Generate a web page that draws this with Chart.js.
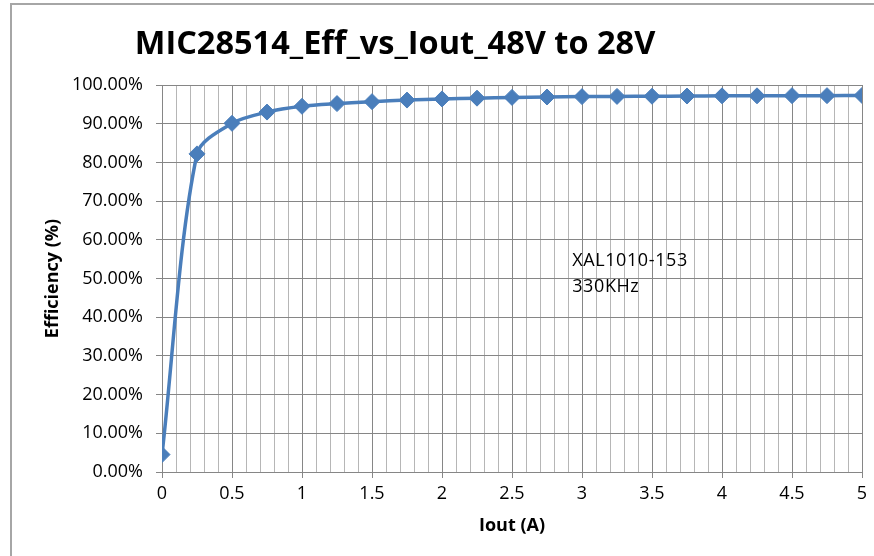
<!DOCTYPE html>
<html>
<head>
<meta charset="utf-8">
<script src="https://cdn.jsdelivr.net/npm/chart.js@4.4.1/dist/chart.umd.min.js"></script>
<style>
    html, body {
        margin: 0;
        padding: 0;
        background: #ffffff;
    }

    .wrap {
        position: relative;
        width: 874px;
        height: 556px;
    }

    .frame {
        position: absolute;
        left: 10px;
        top: 3px;
        right: 0;
        bottom: 0;
        border-top: 2px solid #a6a6a6;
        border-left: 2px solid #a6a6a6;
        pointer-events: none;
    }
</style>
</head>
<body>
<div class="wrap">
    <canvas id="effChart" width="874" height="556"></canvas>
    <div class="frame"></div>
</div>
<script>
const chartTitle = "MIC28514_Eff_vs_Iout_48V to 28V";
const noteLines = ["XAL1010-153", "330KHz"];

// output current (A) and measured efficiency (%)
const currents = [0, 0.25, 0.5, 0.75, 1, 1.25, 1.5, 1.75, 2, 2.25, 2.5,
    2.75, 3, 3.25, 3.5, 3.75, 4, 4.25, 4.5, 4.75, 5];
const efficiency = [4.5, 82.2, 90.1, 93.0, 94.5, 95.2, 95.7, 96.1, 96.4, 96.6, 96.8,
    96.9, 97.0, 97.05, 97.1, 97.15, 97.2, 97.2, 97.25, 97.25, 97.3];

const yTicks = [0, 10, 20, 30, 40, 50, 60, 70, 80, 90, 100];
const xRange = [0, 5];

const lineBlue = "#4a7ebb";
const majorGrid = "#868686";
const minorGrid = "#b6b6b6";

function isMajorX(value) {
    return Math.abs(value * 2 - Math.round(value * 2)) < 1e-6;
}

const overlayText = {
    id: "overlayText",
    afterDraw(chart) {
        const { ctx, scales } = chart;
        ctx.save();
        ctx.fillStyle = "#000000";
        ctx.font = "bold 32.5px 'Open Sans', sans-serif";
        ctx.textAlign = "center";
        ctx.textBaseline = "alphabetic";
        ctx.fillText(chartTitle, 395, 54);

        ctx.font = "18px 'Open Sans', sans-serif";
        ctx.letterSpacing = "0.6px";
        ctx.textAlign = "left";
        const noteX = scales.x.getPixelForValue(2.93);
        const noteY = scales.y.getPixelForValue(53.2);
        noteLines.forEach((line, i) => {
            ctx.fillText(line, noteX, noteY + i * 26);
        });
        ctx.restore();
    }
};

new Chart(document.getElementById("effChart"), {
    type: "line",
    data: {
        datasets: [{
            data: currents.map((x, i) => ({ x: x, y: efficiency[i] })),
            borderColor: lineBlue,
            backgroundColor: lineBlue,
            borderWidth: 3.5,
            tension: 0.3,
            pointStyle: "rectRot",
            pointRadius: 8,
            pointBorderWidth: 1,
            pointBackgroundColor: lineBlue,
            pointBorderColor: lineBlue
        }]
    },
    options: {
        responsive: false,
        animation: false,
        layout: {
            padding: { top: 85, right: 12, bottom: 0, left: 0 }
        },
        plugins: {
            legend: { display: false },
            tooltip: { enabled: false }
        },
        scales: {
            x: {
                type: "linear",
                min: xRange[0],
                max: xRange[1],
                afterFit(scale) {
                    scale.height = 84;
                },
                border: { color: majorGrid, width: 1 },
                grid: {
                    color: (ctx) => (ctx.tick && isMajorX(ctx.tick.value) ? majorGrid : minorGrid),
                    tickColor: (ctx) => (ctx.tick && isMajorX(ctx.tick.value) ? majorGrid : "rgba(0,0,0,0)"),
                    tickLength: 6,
                    lineWidth: 1
                },
                ticks: {
                    stepSize: 0.1,
                    autoSkip: false,
                    maxRotation: 0,
                    padding: 5,
                    color: "#000000",
                    font: { family: "'Open Sans', sans-serif", size: 18 },
                    callback: (value) => (isMajorX(value) ? String(Math.round(value * 2) / 2) : "")
                },
                title: {
                    display: true,
                    text: "Iout (A)",
                    color: "#000000",
                    font: { family: "'Open Sans', sans-serif", size: 18, weight: "bold" },
                    padding: { top: 0, bottom: 19 }
                }
            },
            y: {
                min: yTicks[0],
                max: yTicks[yTicks.length - 1],
                afterFit(scale) {
                    scale.width = 162;
                },
                afterBuildTicks(scale) {
                    scale.ticks = yTicks.map((v) => ({ value: v }));
                },
                border: { color: majorGrid, width: 1 },
                grid: {
                    color: majorGrid,
                    tickColor: majorGrid,
                    tickLength: 6,
                    lineWidth: 1
                },
                ticks: {
                    padding: 13,
                    color: "#000000",
                    font: { family: "'Open Sans', sans-serif", size: 18 },
                    callback: (value) => value.toFixed(2) + "%"
                },
                title: {
                    display: true,
                    text: "Efficiency (%)",
                    color: "#000000",
                    font: { family: "'Open Sans', sans-serif", size: 18, weight: "bold" },
                    padding: { top: 42, bottom: 0 }
                }
            }
        }
    },
    plugins: [overlayText]
});
</script>
</body>
</html>
